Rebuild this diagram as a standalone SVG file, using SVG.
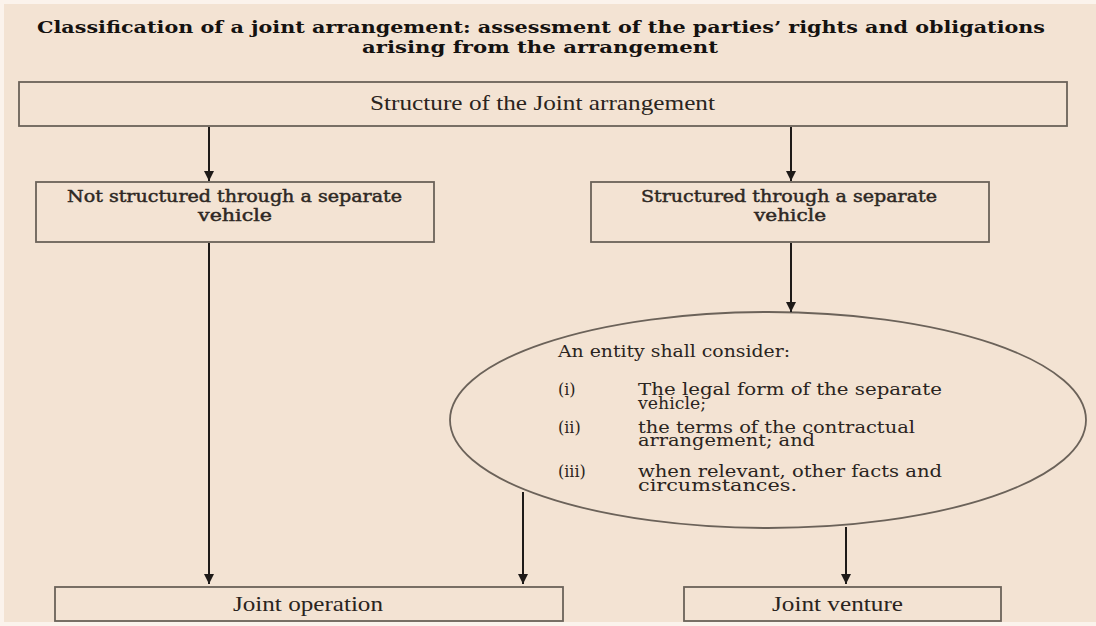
<svg xmlns="http://www.w3.org/2000/svg" width="1096" height="626" viewBox="0 0 1096 626">
  <defs>
    <marker id="arrow" viewBox="0 0 10 10" refX="10" refY="5" markerWidth="10" markerHeight="10" markerUnits="userSpaceOnUse" orient="auto">
      <path d="M0,0 L10,5 L0,10 z" fill="#1e1a18"/>
    </marker>
    <style>
      .box { fill: none; stroke: #6b6259; stroke-width: 1.8; }
      .conn { stroke: #1e1a18; stroke-width: 2; fill: none; marker-end: url(#arrow); }
      .title { font-family: "DejaVu Serif", "Liberation Serif", serif; font-weight: bold; font-size: 16px; fill: #151210; }
      .tn { font-family: "Liberation Serif", serif; font-size: 21px; fill: #2a2420; }
      .wide { font-family: "DejaVu Serif", "Liberation Serif", serif; font-size: 16px; fill: #2a2420; }
      .wb { font-family: "DejaVu Serif", "Liberation Serif", serif; font-size: 16px; fill: #2e2824; stroke: #2e2824; stroke-width: 0.45; }
    </style>
  </defs>
  <rect x="0" y="0" width="1096" height="626" fill="#fbf3ec"/>
  <rect x="4" y="4" width="1092" height="618" fill="#f3e3d3"/>

  <g id="title">
    <text class="title"><tspan x="37" y="33" textLength="1008" lengthAdjust="spacingAndGlyphs">Classification of a joint arrangement: assessment of the parties’ rights and obligations</tspan><tspan x="362" y="53" textLength="356" lengthAdjust="spacingAndGlyphs">arising from the arrangement</tspan></text>
  </g>

  <g id="structure">
    <rect class="box" x="19" y="82" width="1048" height="44"/>
    <text class="tn" x="370" y="110" textLength="345" lengthAdjust="spacingAndGlyphs">Structure of the Joint arrangement</text>
  </g>

  <g id="not-structured">
    <rect class="box" x="36" y="182" width="398" height="60"/>
    <text class="wb"><tspan x="67" y="202" textLength="335" lengthAdjust="spacingAndGlyphs">Not structured through a separate</tspan><tspan x="198" y="221" textLength="74" lengthAdjust="spacingAndGlyphs">vehicle</tspan></text>
  </g>

  <g id="structured">
    <rect class="box" x="591" y="182" width="398" height="60"/>
    <text class="wb"><tspan x="641" y="202" textLength="296" lengthAdjust="spacingAndGlyphs">Structured through a separate</tspan><tspan x="754" y="221" textLength="72" lengthAdjust="spacingAndGlyphs">vehicle</tspan></text>
  </g>

  <g id="consider">
    <ellipse class="box" cx="768" cy="420" rx="318" ry="108"/>
    <text class="wide" x="558" y="357" textLength="232" lengthAdjust="spacingAndGlyphs">An entity shall consider:</text>
    <text class="wide"><tspan x="558" y="395">(i)</tspan><tspan x="638" y="395" textLength="304" lengthAdjust="spacingAndGlyphs">The legal form of the separate</tspan><tspan x="638" y="409" textLength="68" lengthAdjust="spacingAndGlyphs">vehicle;</tspan></text>
    <text class="wide"><tspan x="558" y="433">(ii)</tspan><tspan x="638" y="433" textLength="277" lengthAdjust="spacingAndGlyphs">the terms of the contractual</tspan><tspan x="638" y="446" textLength="177" lengthAdjust="spacingAndGlyphs">arrangement; and</tspan></text>
    <text class="wide"><tspan x="558" y="477">(iii)</tspan><tspan x="638" y="477" textLength="304" lengthAdjust="spacingAndGlyphs">when relevant, other facts and</tspan><tspan x="638" y="491" textLength="159" lengthAdjust="spacingAndGlyphs">circumstances.</tspan></text>
  </g>

  <g id="joint-operation">
    <rect class="box" x="55" y="587" width="508" height="34"/>
    <text class="tn" x="233" y="611" textLength="150" lengthAdjust="spacingAndGlyphs">Joint operation</text>
  </g>

  <g id="joint-venture">
    <rect class="box" x="684" y="587" width="317" height="34"/>
    <text class="tn" x="772" y="611" textLength="131" lengthAdjust="spacingAndGlyphs">Joint venture</text>
  </g>

  <g id="connectors">
    <line class="conn" x1="209" y1="127" x2="209" y2="181"/>
    <line class="conn" x1="791" y1="127" x2="791" y2="181"/>
    <line class="conn" x1="791" y1="243" x2="791" y2="312"/>
    <line class="conn" x1="209" y1="243" x2="209" y2="584"/>
    <line class="conn" x1="523" y1="492" x2="523" y2="584"/>
    <line class="conn" x1="846" y1="527" x2="846" y2="584"/>
  </g>
</svg>
